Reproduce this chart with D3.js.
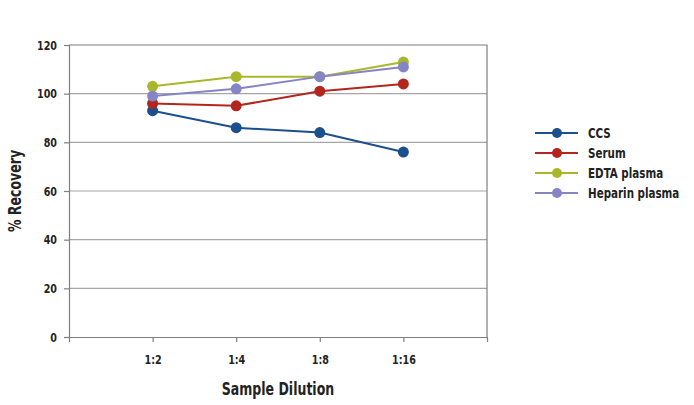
<!DOCTYPE html>
<html>
<head>
<meta charset="utf-8">
<script src="https://cdn.jsdelivr.net/npm/d3@7"></script>
<style>
  body { margin: 0; background: #fff; }
  text { font-family: "DejaVu Sans Condensed", "DejaVu Sans", sans-serif; font-stretch: condensed; font-weight: bold; fill: #222; }
</style>
</head>
<body>
<svg id="chart" width="694" height="405"></svg>
<script>
const dilutions = ["1:2", "1:4", "1:8", "1:16"]
const seriesNames = ["CCS", "Serum", "EDTA plasma", "Heparin plasma"]
const ccs = [93, 86, 84, 76]
const serum = [96, 95, 101, 104]
const edta = [103, 107, 107, 113]
const heparin = [99, 102, 107, 111]
const yTicks = [0, 20, 40, 60, 80, 100, 120]
const colors = ["#1c4f8e", "#b3261e", "#a9b82a", "#8585c6"]

const series = [ccs, serum, edta, heparin].map((vals, i) => ({name: seriesNames[i], color: colors[i], vals}))

let margin = {top: 45, left: 69}, w = 418, h = 292

let svg = d3.select("#chart")
let g = svg.append("g").attr("transform", `translate(${margin.left}, ${margin.top})`)

// 5 slots, categories sit on 1..4
const x = d3.scalePoint().domain(dilutions).range([0, w]).padding(1)
const y = d3.scaleLinear().domain([0, 120]).range([h, 0])

// grid lines
g.selectAll(".grid").data(yTicks.filter(t => t > 0 && t < 120)).join("line")
  .attr("x1", 0).attr("x2", w)
  .attr("y1", d => y(d)).attr("y2", d => y(d))
  .attr("stroke", "#a6a6a6").attr("stroke-width", 1.2)

// plot border (top and right)
g.append("path").attr("d", `M0,0H${w}V${h}`).attr("fill", "none")
  .attr("stroke", "#7f7f7f").attr("stroke-width", 1.2)

let yAxis = g.append("g").call(d3.axisLeft(y).tickValues(yTicks).tickSize(5).tickPadding(7))
let xAxis = g.append("g").attr("transform", `translate(0, ${h})`)
  .call(d3.axisBottom(x).tickSize(5).tickPadding(13))
for (const ax of [xAxis, yAxis]) {
  ax.attr("font-family", null)
  ax.select(".domain").attr("stroke", "#7f7f7f").attr("stroke-width", 1.2)
  ax.selectAll(".tick line").attr("stroke", "#7f7f7f").attr("stroke-width", 1.2)
  ax.selectAll("text").attr("font-size", 13).attr("fill", "#222")
}

const line = d3.line().x((d, i) => x(dilutions[i])).y(d => y(d))

let sg = g.selectAll(".series").data(series).join("g")
sg.append("path").attr("d", d => line(d.vals)).attr("fill", "none")
  .attr("stroke", d => d.color).attr("stroke-width", 2)
sg.selectAll("circle").data(d => d.vals.map(v => ({v, c: d.color}))).join("circle")
  .attr("cx", (d, i) => x(dilutions[i])).attr("cy", d => y(d.v))
  .attr("r", 5.5).attr("fill", d => d.c)

// axis titles
svg.append("text").attr("x", 278).attr("y", 395).attr("text-anchor", "middle")
  .attr("font-size", 17).text("Sample Dilution")
svg.append("text").attr("text-anchor", "middle").attr("font-size", 17)
  .attr("transform", "translate(21, 191) rotate(-90)").text("% Recovery")

// legend
let lg = svg.append("g").attr("transform", "translate(535, 133)")
let item = lg.selectAll("g").data(series).join("g")
  .attr("transform", (d, i) => `translate(0, ${i * 20})`)
item.append("line").attr("x1", 0).attr("x2", 43).attr("stroke", d => d.color).attr("stroke-width", 2)
item.append("circle").attr("cx", 22).attr("r", 5).attr("fill", d => d.color)
item.append("text").attr("x", 53).attr("dy", "0.35em").attr("font-size", 14).text(d => d.name)

// squeeze text horizontally to match the narrow condensed face of the original
svg.selectAll("text").each(function() {
  const t = d3.select(this)
  const tx = +t.attr("x") || 0, ty = +t.attr("y") || 0
  const prev = t.attr("transform") || ""
  t.attr("x", 0).attr("y", 0)
    .attr("transform", `${prev} translate(${tx},${ty}) scale(0.82,1)`)
})
</script>
</body>
</html>
